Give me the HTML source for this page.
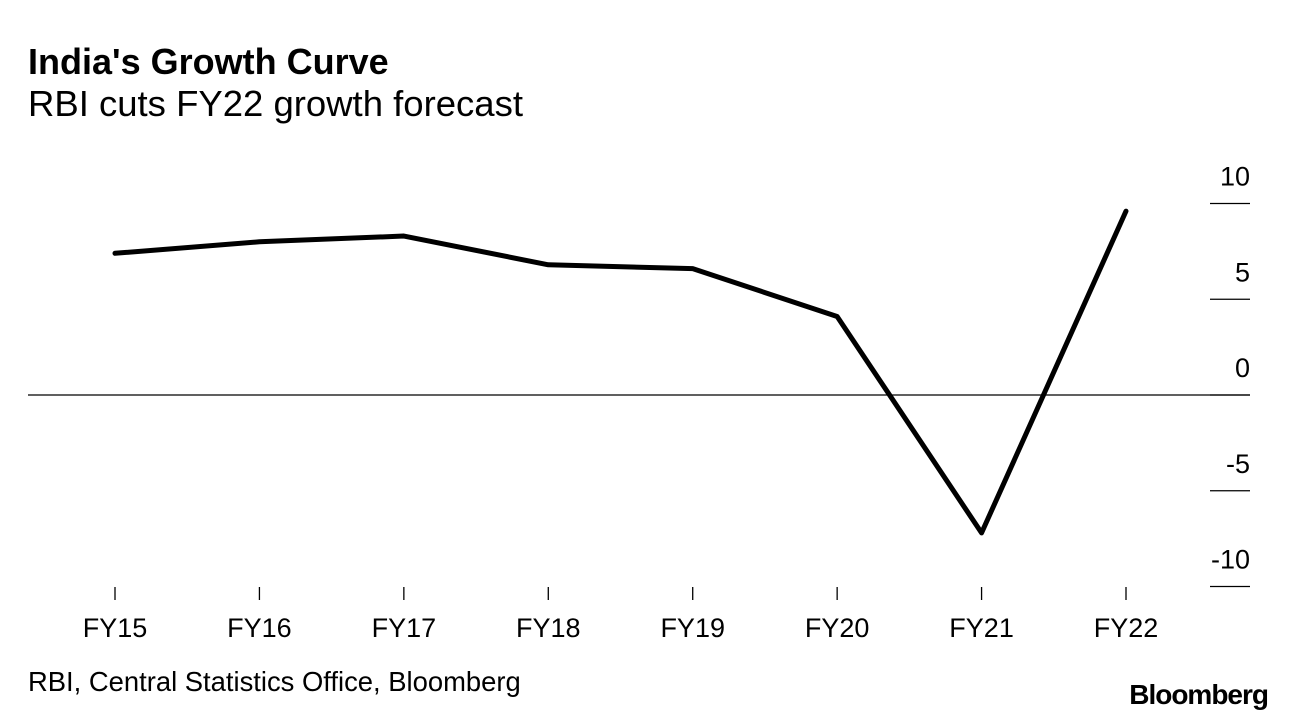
<!DOCTYPE html>
<html><head><meta charset="utf-8"><style>
body{margin:0;background:#fff;font-family:"Liberation Sans",Arial,sans-serif;}
svg text{font-family:"Liberation Sans",Arial,sans-serif;}
</style></head><body>
<svg width="1296" height="720" viewBox="0 0 1296 720" xmlns="http://www.w3.org/2000/svg">
<text x="28" y="74" font-size="36" font-weight="bold" fill="#000">India's Growth Curve</text>
<text x="28" y="116" font-size="36.5" fill="#000">RBI cuts FY22 growth forecast</text>
<text x="28" y="691" font-size="27.4" fill="#000">RBI, Central Statistics Office, Bloomberg</text>
<text x="1268" y="704" font-size="28" font-weight="bold" text-anchor="end" fill="#000" letter-spacing="-1">Bloomberg</text>
<g id="plot"></g>
</svg>
<script>
const categories=["FY15","FY16","FY17","FY18","FY19","FY20","FY21","FY22"];
const growth=[7.4,8.0,8.3,6.8,6.6,4.1,-7.2,9.6];
const yTicks=[10,5,0,-5,-10];
const yTickLabels=["10","5","0","-5","-10"];
const NS="http://www.w3.org/2000/svg";
const g=document.getElementById('plot');
function x(i){return 115+i*(1126-115)/7;}
function y(v){return 395-v*19.15;}
function mk(t,a){const e=document.createElementNS(NS,t);for(const k in a)e.setAttribute(k,a[k]);g.appendChild(e);return e;}
let zl=mk('line',{x1:28,x2:1250,y1:y(0),y2:y(0),stroke:'#000','stroke-width':1.3});


yTicks.forEach((v,i)=>{
 const l=mk('line',{x1:1210,x2:1250,y1:y(v),y2:y(v),stroke:'#000','stroke-width':1.3});
 
 
 const t=mk('text',{x:1250,y:y(v)-18,'font-size':27,'text-anchor':'end',fill:'#000'});
 t.textContent=yTickLabels[i];
 
 
});
categories.forEach((c,i)=>{
 const l=mk('line',{x1:x(i),x2:x(i),y1:587,y2:600,stroke:'#000','stroke-width':1.3});
 
 
 const t=mk('text',{x:x(i),y:637,'font-size':27,'text-anchor':'middle',fill:'#000'});
 t.textContent=c;
 
 
});
const p=mk('polyline',{points:growth.map((v,i)=>x(i)+','+y(v)).join(' '),fill:'none',stroke:'#000','stroke-width':5,'stroke-linejoin':'round','stroke-linecap':'round'});


</script>
</body></html>
